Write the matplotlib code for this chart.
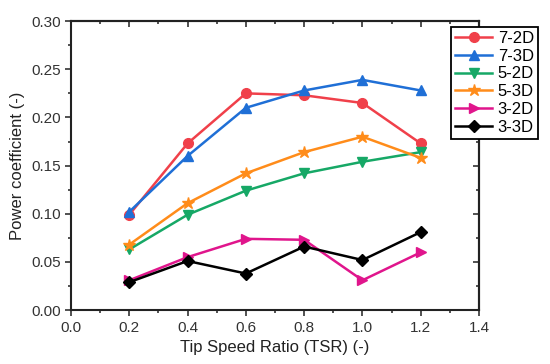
import matplotlib.pyplot as plt
from matplotlib.ticker import MultipleLocator, NullFormatter

plt.rcParams['font.family'] = ['Liberation Sans', 'DejaVu Sans']

tsr = [0.2, 0.4, 0.6, 0.8, 1.0, 1.2]
cp_72 = [0.099, 0.173, 0.225, 0.223, 0.215, 0.173]
cp_73 = [0.102, 0.160, 0.210, 0.228, 0.239, 0.228]
cp_52 = [0.063, 0.099, 0.124, 0.142, 0.154, 0.164]
cp_53 = [0.068, 0.111, 0.142, 0.164, 0.180, 0.158]
cp_32 = [0.031, 0.055, 0.074, 0.073, 0.031, 0.060]
cp_33 = [0.029, 0.051, 0.038, 0.066, 0.052, 0.081]

fig = plt.figure(figsize=(5.5, 3.64), dpi=100)
ax = fig.add_axes([0.129, 0.148, 0.742, 0.794])

ax.plot(tsr, cp_72, '-o', color='#f0404a', lw=1.8, ms=7, label='7-2D')
ax.plot(tsr, cp_73, '-^', color='#1f6fd6', lw=1.8, ms=7, label='7-3D')
ax.plot(tsr, cp_52, '-v', color='#16a866', lw=1.8, ms=7, label='5-2D')
ax.plot(tsr, cp_53, '-*', color='#ff8c1a', lw=1.8, ms=9, label='5-3D')
ax.plot(tsr, cp_32, '->', color='#e0158c', lw=1.8, ms=7, label='3-2D')
ax.plot(tsr, cp_33, '-D', color='black', lw=1.8, ms=6, label='3-3D')

ax.set_xlim(0, 1.4)
ax.set_ylim(0, 0.30)
ax.xaxis.set_major_locator(MultipleLocator(0.2))
ax.xaxis.set_minor_locator(MultipleLocator(0.1))
ax.yaxis.set_major_locator(MultipleLocator(0.05))
ax.yaxis.set_minor_locator(MultipleLocator(0.025))
ax.xaxis.set_major_formatter(plt.FormatStrFormatter('%.1f'))
ax.yaxis.set_major_formatter(plt.FormatStrFormatter('%.2f'))
ax.tick_params(which='both', direction='out', labelsize=11,
               colors='#333333', width=1.2)
ax.tick_params(which='major', length=4)
ax.tick_params(which='minor', length=2.5)
for s in ax.spines.values():
    s.set_linewidth(1.5)
    s.set_color('#222222')

# mirrored ticks on top/right point inward, no labels
top = ax.secondary_xaxis('top')
top.xaxis.set_major_locator(MultipleLocator(0.2))
top.xaxis.set_minor_locator(MultipleLocator(0.1))
top.xaxis.set_major_formatter(NullFormatter())
right = ax.secondary_yaxis('right')
right.yaxis.set_major_locator(MultipleLocator(0.05))
right.yaxis.set_minor_locator(MultipleLocator(0.025))
right.yaxis.set_major_formatter(NullFormatter())
for sec, side in ((top, 'top'), (right, 'right')):
    sec.tick_params(which='both', direction='in', width=1.2, colors='#333333')
    sec.tick_params(which='major', length=4)
    sec.tick_params(which='minor', length=2.5)
    sec.spines[side].set_linewidth(1.5)
    sec.spines[side].set_color('#222222')
    sec.set_zorder(1)

ax.set_xlabel('Tip Speed Ratio (TSR) (-)', fontsize=12, color='#222222')
ax.set_ylabel('Power coefficient (-)', fontsize=12, color='#222222')

leg = ax.legend(loc='upper left', bbox_to_anchor=(451/550, 1 - 27/364),
                bbox_transform=fig.transFigure, fontsize=12, frameon=True,
                fancybox=False, edgecolor='black', framealpha=1,
                handlelength=2.2, borderpad=0.25, labelspacing=0.16,
                handletextpad=0.35, borderaxespad=0)
leg.get_frame().set_linewidth(1.3)
leg.set_zorder(5)

fig.savefig('out.png', dpi=100)
